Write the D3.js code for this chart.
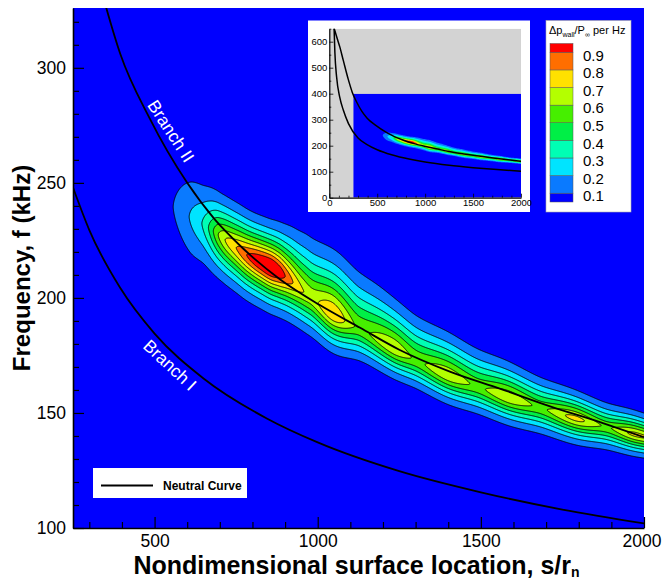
<!DOCTYPE html>
<html><head><meta charset="utf-8">
<script src="https://cdn.jsdelivr.net/npm/d3@7"></script>
<style>
body{margin:0;background:#fff}
svg text{font-family:"Liberation Sans",Arial,Helvetica,sans-serif}
</style>
</head><body>
<svg id="c" width="662" height="580"></svg>
<script>
// ---------------- DATA ----------------
const xTicks = [500, 1000, 1500, 2000];
const xMinor = [300,400,600,700,800,900,1100,1200,1300,1400,1600,1700,1800,1900];
const yTicks = [100, 150, 200, 250, 300];
const yMinor = [110,120,130,140,160,170,180,190,210,220,230,240,260,270,280,290,310,320];
const levels = [0.1, 0.2, 0.3, 0.4, 0.5, 0.6, 0.7, 0.8, 0.9];
const bandColors = ["#0000ff","#0a7aff","#00e4ff","#00ffb4","#00ef46","#46ef00","#b4ff00","#ffe100","#ff6e00","#ff0000"];

// Neutral curve, Branch II (s/rn, kHz)
const branchIIS = [340, 395, 485, 600, 685, 760, 885, 1005, 1130, 1250, 1405, 1560, 1710, 1865, 2000];
const branchIIF = [332, 306, 278, 250, 234, 223, 208, 197, 187, 177.5, 168, 160.5, 153, 146, 139.5];
// Neutral curve, Branch I
const branchIS = [250, 300, 394, 500, 650, 844, 1000, 1250, 1500, 1750, 2000];
const branchIF = [248, 229.5, 204.5, 184.5, 165, 147.6, 137.2, 124.7, 115.5, 108, 102];
// nose of the neutral curve (inset only, s < 340)
const noseIIS = [50, 80, 111, 146, 198, 240, 285];
const noseIIF = [652, 615, 578, 528, 455, 405, 368];
const noseIS = [50, 58, 76, 110, 146, 200];
const noseIF = [652, 560, 465, 385, 337, 285];

// Contoured field: amplitude along the band ridge
const ridgeS   = [480, 557, 606, 645, 665, 680, 695, 716, 750, 782, 820, 855, 880, 905, 930, 955, 980, 1045, 1130, 1232, 1305, 1398, 1490, 1585, 1681, 1790, 1885, 1975, 2000];
const ridgeAmp = [0, 0.1, 0.2, 0.3, 0.4, 0.5, 0.6, 0.7, 0.8, 0.9, 1.0, 1.05, 0.99, 0.88, 0.78, 0.705, 0.67, 0.79, 0.58, 0.685, 0.585, 0.68, 0.585, 0.685, 0.585, 0.73, 0.59, 0.73, 0.72];
// ridge centre frequency
const centerS = [540, 557, 606, 649, 680, 716, 752, 782, 838, 884, 976, 1042, 1150, 1242, 1397, 1579, 1788, 1966, 2000];
const centerF = [241, 239.6, 235.3, 232.0, 229.0, 225.2, 221.6, 218.7, 214.5, 211, 200.5, 193.5, 185, 177.4, 166.5, 157, 147.7, 140.9, 139.7];
// band half-widths above / below the ridge (kHz)
const widthS  = [540, 608, 660, 711, 762, 813, 850, 884, 930, 976, 1059, 1160, 1252, 1427, 1650, 1825, 2000];
const widthUp = [21, 18.7, 14.8, 12.8, 12.5, 12.1, 12.3, 13.2, 15.5, 17.5, 18, 16.5, 14.3, 12.3, 9.7, 7.8, 6.7];
const widthDn = [21, 18.7, 14.8, 12.8, 12.3, 12.0, 11.9, 11.8, 11.6, 11.4, 10.8, 9.5, 8.8, 8.4, 8.0, 7.3, 6.1];
const profileExp = 1.6;

// inset tick values
const insetXTicks = [0, 500, 1000, 1500, 2000];
const insetXMinor = [100,200,300,400,600,700,800,900,1100,1200,1300,1400,1600,1700,1800,1900];
const insetYTicks = [0, 100, 200, 300, 400, 500, 600];
const insetYMinor = [50,150,250,350,450,550,650];

// ---------------- helpers ----------------
function monotone(xs, ys) {
  const n = xs.length, h = [], d = [], m = new Array(n);
  for (let i = 0; i < n - 1; i++) { h[i] = xs[i+1] - xs[i]; d[i] = (ys[i+1] - ys[i]) / h[i]; }
  m[0] = d[0]; m[n-1] = d[n-2];
  for (let i = 1; i < n - 1; i++) {
    if (d[i-1] * d[i] <= 0) m[i] = 0;
    else { const w1 = 2*h[i] + h[i-1], w2 = h[i] + 2*h[i-1]; m[i] = (w1 + w2) / (w1/d[i-1] + w2/d[i]); }
  }
  return function(x) {
    if (x <= xs[0]) return ys[0];
    if (x >= xs[n-1]) return ys[n-1];
    const i = Math.min(n - 2, d3.bisectRight(xs, x) - 1);
    const t = (x - xs[i]) / h[i], t2 = t*t, t3 = t2*t;
    return (2*t3 - 3*t2 + 1)*ys[i] + (t3 - 2*t2 + t)*h[i]*m[i] + (-2*t3 + 3*t2)*ys[i+1] + (t3 - t2)*h[i]*m[i+1];
  };
}
const ampAt = monotone(ridgeS, ridgeAmp), centerAt = monotone(centerS, centerF);
const upAt = monotone(widthS, widthUp), dnAt = monotone(widthS, widthDn);

function gridField(xs, ys, px0, px1, py0, py1) {
  const gx0 = Math.floor(px0) - 2, gy0 = Math.floor(py0) - 2;
  const nx = Math.ceil(px1) + 2 - gx0, ny = Math.ceil(py1) + 2 - gy0;
  const vals = new Float64Array(nx * ny);
  const fRow = new Float64Array(ny);
  for (let j = 0; j < ny; j++) fRow[j] = ys.invert(gy0 + j + 0.5);
  for (let i = 0; i < nx; i++) {
    const s = xs.invert(gx0 + i + 0.5);
    const A = s < ridgeS[0] ? 0 : ampAt(s);
    if (A <= 0) continue;
    const c = centerAt(s), wu = upAt(s), wd = dnAt(s);
    for (let j = 0; j < ny; j++) {
      const dd = fRow[j] - c, w = dd > 0 ? wu : wd;
      vals[j*nx + i] = A * Math.exp(-Math.pow(Math.abs(dd) / w, profileExp));
    }
  }
  return {vals, nx, ny, gx0, gy0};
}

// ---------------- MAIN PLOT ----------------
const svg = d3.select("#c");
const x = d3.scaleLinear().domain([250, 2000]).range([73, 644]);
const y = d3.scaleLinear().domain([100, 326]).range([528, 8]);
const defs = svg.append("defs");
defs.append("clipPath").attr("id", "clipMain").append("rect")
  .attr("x", x(250)).attr("y", y(326)).attr("width", x(2000) - x(250)).attr("height", y(100) - y(326));

const plot = svg.append("g").attr("clip-path", "url(#clipMain)");
plot.append("rect").attr("x", x(250)).attr("y", y(326)).attr("width", x(2000) - x(250)).attr("height", y(100) - y(326))
  .attr("fill", bandColors[0]);

const G = gridField(x, y, x(250), x(2000), y(326), y(100));
const cont = d3.contours().size([G.nx, G.ny]).smooth(true).thresholds(levels)(G.vals);
const path = d3.geoPath();
const gF = plot.append("g").attr("transform", `translate(${G.gx0},${G.gy0})`);
gF.selectAll("path.fill").data(cont).join("path").attr("class", "fill")
  .attr("d", path).attr("fill", (d, i) => bandColors[i + 1]);
gF.selectAll("path.iso").data(cont).join("path").attr("class", "iso")
  .attr("d", path).attr("fill", "none").attr("stroke", "#000").attr("stroke-width", 0.9);

const lineMain = d3.line().x(d => x(d[0])).y(d => y(d[1])).curve(d3.curveMonotoneX);
plot.append("path").datum(d3.zip(branchIIS, branchIIF)).attr("d", lineMain)
  .attr("fill", "none").attr("stroke", "#000").attr("stroke-width", 1.8);
plot.append("path").datum(d3.zip(branchIS, branchIF)).attr("d", lineMain)
  .attr("fill", "none").attr("stroke", "#000").attr("stroke-width", 1.8);

// branch labels
svg.append("text").attr("transform", "translate(171,131) rotate(57)").attr("text-anchor", "middle")
  .attr("dy", "0.35em").attr("font-size", 17.5).attr("fill", "#fff").text("Branch II");
svg.append("text").attr("transform", "translate(170,365) rotate(43)").attr("text-anchor", "middle")
  .attr("dy", "0.35em").attr("font-size", 17.5).attr("fill", "#fff").text("Branch I");

// Neutral curve legend
svg.append("rect").attr("x", 93).attr("y", 468).attr("width", 154).attr("height", 30).attr("fill", "#fff");
svg.append("line").attr("x1", 101).attr("x2", 153).attr("y1", 485.5).attr("y2", 485.5).attr("stroke", "#000").attr("stroke-width", 2);
svg.append("text").attr("x", 163).attr("y", 490).attr("font-size", 12).attr("font-weight", "bold").text("Neutral Curve");

// axes
function styleAxis(g, fs) {
  g.attr("font-size", fs).attr("font-family", '"Liberation Sans",Arial,Helvetica,sans-serif');
  g.selectAll("text").attr("fill", "#000");
  g.selectAll(".tick line").attr("stroke", "#000").attr("stroke-width", 1.2);
  g.select(".domain").attr("stroke", "#000").attr("stroke-width", 1.6);
}
const yAx = svg.append("g").attr("transform", `translate(${x(250)},0)`)
  .call(d3.axisLeft(y).tickValues(yTicks).tickSize(-11).tickSizeOuter(0).tickPadding(7).tickFormat(d3.format("d")));
styleAxis(yAx, 17.5);
const yAxm = svg.append("g").attr("transform", `translate(${x(250)},0)`)
  .call(d3.axisLeft(y).tickValues(yMinor).tickSize(-6).tickSizeOuter(0).tickFormat(""));
styleAxis(yAxm, 17.5); yAxm.select(".domain").remove();
const xAx = svg.append("g").attr("transform", `translate(0,${y(100)})`)
  .call(d3.axisBottom(x).tickValues(xTicks).tickSize(-11).tickSizeOuter(0).tickPadding(7).tickFormat(d3.format("d")));
styleAxis(xAx, 17.5);
// last label kept inside the page: right-aligned at the page edge
xAx.selectAll(".tick").filter(d => d === 2000).select("text")
  .attr("text-anchor", "end").attr("x", 661 - x(2000));
const xAxm = svg.append("g").attr("transform", `translate(0,${y(100)})`)
  .call(d3.axisBottom(x).tickValues(xMinor).tickSize(-6).tickSizeOuter(0).tickFormat(""));
styleAxis(xAxm, 17.5); xAxm.select(".domain").remove();

// axis titles
const xt = svg.append("text").attr("x", (x(250) + x(2000)) / 2 - 2).attr("y", 574).attr("text-anchor", "middle")
  .attr("font-size", 25).attr("font-weight", "bold");
xt.append("tspan").text("Nondimensional surface location, s/r");
xt.append("tspan").attr("dy", 3).attr("font-size", 14).text("n");
svg.append("text").attr("transform", `translate(30,${(y(100) + y(326)) / 2}) rotate(-90)`).attr("text-anchor", "middle")
  .attr("font-size", 24).attr("font-weight", "bold").text("Frequency, f (kHz)");

// ---------------- INSET ----------------
svg.append("rect").attr("x", 308).attr("y", 20.5).attr("width", 222).attr("height", 191.5).attr("fill", "#fff");
const xi = d3.scaleLinear().domain([0, 2000]).range([329.3, 521]);
const yi = d3.scaleLinear().domain([0, 650]).range([197.7, 28.7]);
defs.append("clipPath").attr("id", "clipInset").append("rect")
  .attr("x", xi(0)).attr("y", yi(650)).attr("width", xi(2000) - xi(0)).attr("height", yi(0) - yi(650));
defs.append("clipPath").attr("id", "clipInsetBlue").append("rect")
  .attr("x", xi(250)).attr("y", yi(400)).attr("width", xi(2000) - xi(250)).attr("height", yi(0) - yi(400));
const ins = svg.append("g").attr("clip-path", "url(#clipInset)");
ins.append("rect").attr("x", xi(0)).attr("y", yi(650)).attr("width", xi(2000) - xi(0)).attr("height", yi(0) - yi(650)).attr("fill", "#d3d3d3");
const insBlue = ins.append("g").attr("clip-path", "url(#clipInsetBlue)");
insBlue.append("rect").attr("x", xi(250)).attr("y", yi(400)).attr("width", xi(2000) - xi(250)).attr("height", yi(0) - yi(400)).attr("fill", bandColors[0]);
const GI = gridField(xi, yi, xi(250), xi(2000), yi(400), yi(0));
const contI = d3.contours().size([GI.nx, GI.ny]).smooth(true).thresholds(levels)(GI.vals);
insBlue.append("g").attr("transform", `translate(${GI.gx0},${GI.gy0})`)
  .selectAll("path").data(contI).join("path").attr("d", path).attr("fill", (d, i) => bandColors[i + 1]);
const lineIn = d3.line().x(d => xi(d[0])).y(d => yi(d[1])).curve(d3.curveMonotoneX);
ins.append("path").datum(d3.zip(noseIIS.concat(branchIIS), noseIIF.concat(branchIIF))).attr("d", lineIn)
  .attr("fill", "none").attr("stroke", "#000").attr("stroke-width", 1.5);
ins.append("path").datum(d3.zip(noseIS.concat(branchIS.slice(1)), noseIF.concat(branchIF.slice(1)))).attr("d", lineIn)
  .attr("fill", "none").attr("stroke", "#000").attr("stroke-width", 1.5);

const iyAx = svg.append("g").attr("transform", `translate(${xi(0)},0)`)
  .call(d3.axisLeft(yi).tickValues(insetYTicks).tickSize(-4).tickSizeOuter(0).tickPadding(2).tickFormat(d3.format("d")));
styleAxis(iyAx, 9.5); iyAx.select(".domain").attr("stroke-width", 1.2); iyAx.selectAll(".tick line").attr("stroke-width", 0.8);
const iyAxm = svg.append("g").attr("transform", `translate(${xi(0)},0)`)
  .call(d3.axisLeft(yi).tickValues(insetYMinor).tickSize(-2).tickSizeOuter(0).tickFormat(""));
iyAxm.select(".domain").remove(); iyAxm.selectAll(".tick line").attr("stroke", "#000").attr("stroke-width", 0.8);
const ixAx = svg.append("g").attr("transform", `translate(0,${yi(0)})`)
  .call(d3.axisBottom(xi).tickValues(insetXTicks).tickSize(-4).tickSizeOuter(0).tickPadding(2).tickFormat(d3.format("d")));
styleAxis(ixAx, 9.5); ixAx.select(".domain").attr("stroke-width", 1.2); ixAx.selectAll(".tick line").attr("stroke-width", 0.8);
const ixAxm = svg.append("g").attr("transform", `translate(0,${yi(0)})`)
  .call(d3.axisBottom(xi).tickValues(insetXMinor).tickSize(-2).tickSizeOuter(0).tickFormat(""));
ixAxm.select(".domain").remove(); ixAxm.selectAll(".tick line").attr("stroke", "#000").attr("stroke-width", 0.8);

// ---------------- COLOUR LEGEND ----------------
svg.append("rect").attr("x", 546).attr("y", 20.5).attr("width", 85).attr("height", 191.5)
  .attr("fill", "#fff").attr("stroke", "#aaa").attr("stroke-width", 0.6);
const lt = svg.append("text").attr("x", 549).attr("y", 34).attr("font-size", 11);
lt.append("tspan").text("\u0394p");
lt.append("tspan").attr("dy", 2.5).attr("font-size", 7).text("wall");
lt.append("tspan").attr("dy", -2.5).text("/P");
lt.append("tspan").attr("dy", 2.5).attr("font-size", 7).text("\u221e");
lt.append("tspan").attr("dy", -2.5).text(" per Hz");
const ly = d3.scaleLinear().domain([0.95, 0.05]).range([43.5, 202]);
const bandEdges = [0.05].concat(levels, [0.95]);
svg.append("g").selectAll("rect").data(d3.range(10)).join("rect")
  .attr("x", 550).attr("width", 23)
  .attr("y", i => ly(bandEdges[i + 1])).attr("height", i => ly(bandEdges[i]) - ly(bandEdges[i + 1]))
  .attr("fill", i => bandColors[i]).attr("stroke", "#555").attr("stroke-width", 0.5);
svg.append("g").selectAll("text").data(levels).join("text")
  .attr("x", 583).attr("y", d => ly(d) + 3).attr("dy", "0.35em").attr("font-size", 15)
  .text(d => d3.format(".1f")(d));
</script>
</body></html>
